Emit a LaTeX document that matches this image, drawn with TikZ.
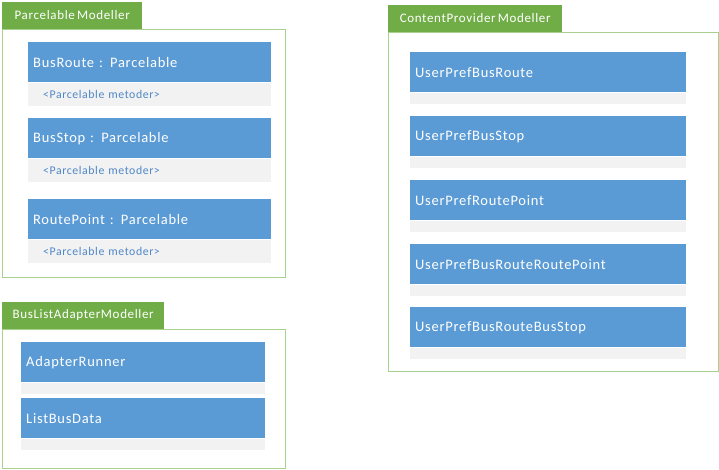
\documentclass[tikz,border=0pt]{standalone}
\usepackage{fontspec}
\setmainfont{Carlito}
\newfontfamily\diagfont[LetterSpace=5,WordSpace=0.6]{Carlito}
\usepackage{xcolor}
\usetikzlibrary{positioning}

\definecolor{tabgreen}{HTML}{70AD47}
\definecolor{framegreen}{HTML}{A9D18E}
\definecolor{headblue}{HTML}{5B9BD5}
\definecolor{bodygrey}{HTML}{F2F2F2}
\definecolor{notetext}{HTML}{4F87C8}

\begin{document}
\begin{tikzpicture}[
  x=1pt,y=-1pt,
  frame/.style={draw=framegreen,line width=1pt,fill=white,anchor=north west,inner sep=0pt},
  tab/.style={fill=tabgreen,text=white,font=\diagfont\fontsize{13}{15}\selectfont,anchor=south west,
              minimum height=27pt,inner sep=0pt},
  head/.style={fill=headblue,text=white,font=\diagfont\fontsize{14.5}{17}\selectfont,anchor=north west,
               minimum height=40pt,inner xsep=5pt,inner ysep=0pt,align=left},
  body/.style={fill=bodygrey,text=notetext,font=\diagfont\fontsize{11.8}{14}\selectfont,anchor=north west,
               inner xsep=15pt,inner ysep=0pt,align=left},
  note/.style={body,minimum height=23pt},
  gap/.style={body,minimum height=11pt}
]
\useasboundingbox (0,0) rectangle (719,470);

% Parcelable Modeller
\node[frame,minimum width=283pt,minimum height=248pt] (parcel) at (2,29) {};
\node[tab,minimum width=140pt] (parceltab) at (parcel.north west) {Parcelable Modeller};
\node[head,text width=233pt] (busroute) at (28,42) {BusRoute : Parcelable};
\node[note,text width=213pt] (busroutenote) at (busroute.south west) {<Parcelable metoder>};
\node[head,text width=233pt] (busstop) at (28,118) {BusStop : Parcelable};
\node[note,text width=213pt] (busstopnote) at (busstop.south west) {<Parcelable metoder>};
\node[head,text width=233pt] (routepoint) at (28,199) {RoutePoint : Parcelable};
\node[note,text width=213pt] (routepointnote) at (routepoint.south west) {<Parcelable metoder>};

% BusListAdapterModeller
\node[frame,minimum width=283pt,minimum height=139pt] (adapter) at (2,329) {};
\node[tab,minimum width=162pt] (adaptertab) at (adapter.north west) {BusListAdapterModeller};
\node[head,text width=234pt] (runner) at (21,342) {AdapterRunner};
\node[gap,text width=214pt] (runnerbody) at (runner.south west) {};
\node[head,text width=234pt] (listbus) at (21,398) {ListBusData};
\node[gap,text width=214pt] (listbusbody) at (listbus.south west) {};

% ContentProvider Modeller
\node[frame,minimum width=330pt,minimum height=339pt] (provider) at (388,32) {};
\node[tab,minimum width=174pt] (providertab) at (provider.north west) {ContentProvider Modeller};
\node[head,text width=266pt] (prefroute) at (410,52) {UserPrefBusRoute};
\node[gap,text width=246pt] (prefroutebody) at (prefroute.south west) {};
\node[head,text width=266pt] (prefstop) at (410,116) {UserPrefBusStop};
\node[gap,text width=246pt] (prefstopbody) at (prefstop.south west) {};
\node[head,text width=266pt] (prefpoint) at (410,180) {UserPrefRoutePoint};
\node[gap,text width=246pt] (prefpointbody) at (prefpoint.south west) {};
\node[head,text width=266pt] (prefroutepoint) at (410,244) {UserPrefBusRouteRoutePoint};
\node[gap,text width=246pt] (prefroutepointbody) at (prefroutepoint.south west) {};
\node[head,text width=266pt] (prefroutestop) at (410,307) {UserPrefBusRouteBusStop};
\node[gap,text width=246pt] (prefroutestopbody) at (prefroutestop.south west) {};
\end{tikzpicture}
\end{document}
